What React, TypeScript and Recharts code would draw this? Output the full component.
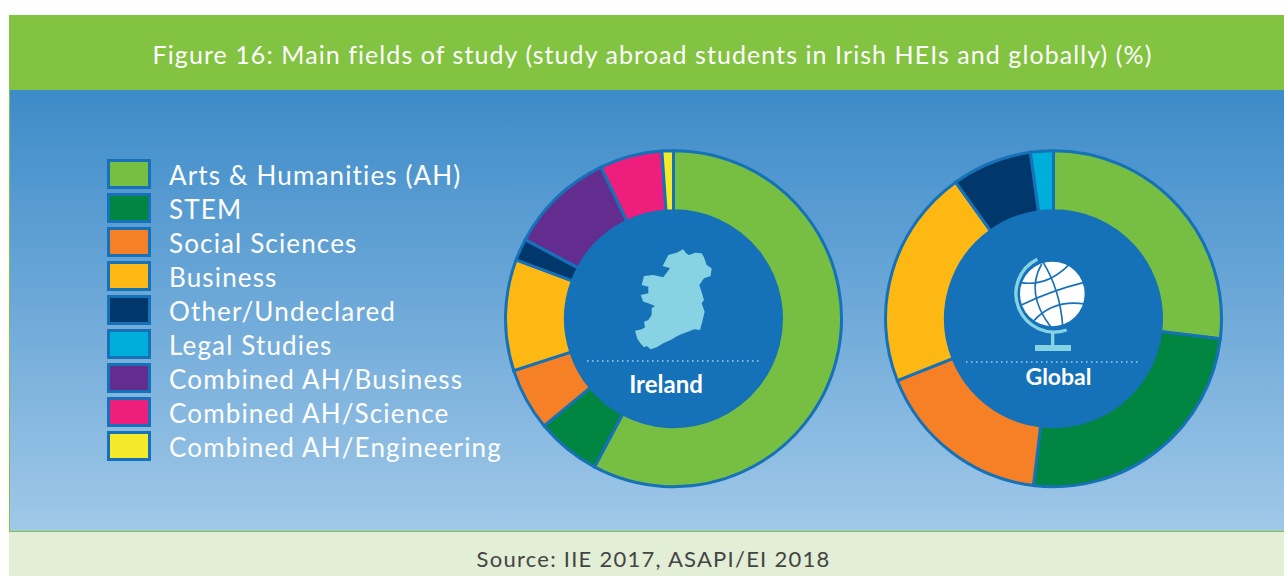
import { Cell, Legend, Pie, PieChart } from 'recharts'

const WIDTH = 1284
const HEIGHT = 576
const FONT = 'Lato, "Open Sans", sans-serif'
const RING_STROKE = '#1571b8'

const CATEGORIES = [
  'Arts & Humanities (AH)',
  'STEM',
  'Social Sciences',
  'Business',
  'Other/Undeclared',
  'Legal Studies',
  'Combined AH/Business',
  'Combined AH/Science',
  'Combined AH/Engineering',
]
const COLORS = [
  '#76bf43',
  '#008641',
  '#f58025',
  '#fdb813',
  '#00386c',
  '#00aedb',
  '#632d8f',
  '#ee1e7c',
  '#f5ea2a',
]
const IRELAND_VALUES = [57.8, 6.2, 6.0, 10.7, 2.1, 0, 10.1, 6.0, 1.1]
const GLOBAL_VALUES = [26.9, 25.0, 17.1, 21.1, 7.7, 2.2, 0, 0, 0]

const toSlices = (values: number[]) =>
  CATEGORIES.map((name, i) => ({ name, value: values[i], color: COLORS[i] })).filter((d) => d.value > 0)

function LegendList(): React.JSX.Element {
  return (
    <div>
      {CATEGORIES.map((name, i) => (
        <div key={name} style={{ display: 'flex', alignItems: 'center', height: 34 }}>
          <div
            style={{
              width: 38,
              height: 24,
              background: COLORS[i],
              border: `3px solid ${RING_STROKE}`,
              marginRight: 18,
              flex: 'none',
            }}
          />
          <span style={{ color: '#fff', fontSize: 26, whiteSpace: 'nowrap', letterSpacing: 1.15, position: 'relative', top: 1 }}>
            {name}
          </span>
        </div>
      ))}
    </div>
  )
}

function Ring({ values, cx }: { values: number[]; cx: number }): React.JSX.Element {
  const slices = toSlices(values)
  return (
    <Pie
      data={slices}
      dataKey="value"
      nameKey="name"
      cx={cx}
      cy={318.7}
      innerRadius={108}
      outerRadius={168}
      startAngle={90}
      endAngle={-270}
      stroke={RING_STROKE}
      strokeWidth={3}
      isAnimationActive={false}
    >
      {slices.map((d) => (
        <Cell key={d.name} fill={d.color} />
      ))}
    </Pie>
  )
}

// hub contents: map and globe, in 3x crop coordinates
function Overlay(): React.JSX.Element {
  return (
    <svg width={WIDTH} height={HEIGHT} style={{ position: 'absolute', left: 0, top: 0, pointerEvents: 'none' }}>
      <circle cx={673.5} cy={318.7} r={108} fill={RING_STROKE} />
      <circle cx={1053.5} cy={318.7} r={108} fill={RING_STROKE} />

      <g transform="translate(500 140) scale(0.3333)">
        <path
          fill="#87d3e3"
          d="M550 328 L558 340 L568 345 L585 338 L605 340 L612 352 L620 375 L635 385 L632 408 L612 415 L598 435 L606 460 L612 480 L605 490 L614 515 L607 545 L600 570 L582 568 L570 573 L545 582 L528 590 L512 600 L490 610 L470 622 L452 628 L440 618 L432 622 L420 608 L412 596 L405 572 L425 568 L435 562 L432 545 L445 540 L455 525 L455 505 L465 498 L445 490 L430 485 L422 465 L445 460 L445 440 L425 435 L432 408 L460 405 L490 412 L510 385 L488 378 L505 345 L530 338 Z"
        />
      </g>

      <g transform="translate(880 140) scale(0.3333)">
        <circle cx={517} cy={462} r={97} fill="#fff" />
        <g fill="none" stroke={RING_STROKE} strokeWidth={5}>
          <path d="M422 428 Q500 440 565 376" />
          <path d="M426 494 Q520 450 610 428" />
          <path d="M462 542 Q520 478 614 492" />
          <path d="M485 372 Q435 460 512 560" />
          <path d="M490 368 Q540 450 548 556" />
        </g>
        <path d="M472 358 A115 115 0 0 0 560 570" fill="none" stroke="#87d3e3" strokeWidth={10} />
        <rect x={513} y={576} width={10} height={40} fill="#87d3e3" />
        <rect x={465} y={615} width={108} height={18} fill="#87d3e3" />
      </g>

      <line x1={587} x2={761} y1={361} y2={361} stroke="#fff" strokeWidth={1.2} strokeDasharray="1.5 3.5" />
      <line x1={966} x2={1140} y1={362} y2={362} stroke="#fff" strokeWidth={1.2} strokeDasharray="1.5 3.5" />

      <text x={666} y={393} textAnchor="middle" fill="#fff" fontFamily={FONT} fontWeight={700} fontSize={24}>
        Ireland
      </text>
      <text x={1058.5} y={385} textAnchor="middle" fill="#fff" fontFamily={FONT} fontWeight={700} fontSize={23}>
        Global
      </text>
    </svg>
  )
}

export default function App(): React.JSX.Element {
  return (
    <div style={{ position: 'absolute', left: 0, top: 0, width: WIDTH, height: HEIGHT, overflow: 'hidden', background: '#fff', fontFamily: FONT }}>
      <div
        style={{
          position: 'absolute',
          left: 9,
          top: 15,
          right: 0,
          height: 75,
          background: '#82c341',
          color: '#fff',
          fontSize: 25,
          letterSpacing: 1.07,
          lineHeight: '78px',
          textAlign: 'center',
          whiteSpace: 'nowrap',
          paddingLeft: 12,
          boxSizing: 'border-box',
        }}
      >
        Figure 16: Main fields of study (study abroad students in Irish HEIs and globally) (%)
      </div>
      <div
        style={{
          position: 'absolute',
          left: 9,
          top: 90,
          right: 0,
          height: 442,
          background: 'linear-gradient(#3d8bc9, #a0c8e8)',
          borderLeft: '1px solid #82c341',
          borderBottom: '1px solid #82c341',
          boxSizing: 'border-box',
        }}
      />
      <div
        style={{
          position: 'absolute',
          left: 9,
          top: 532,
          right: 0,
          height: 44,
          background: '#e2eed5',
          color: '#444',
          fontSize: 22,
          letterSpacing: 1.25,
          lineHeight: '54px',
          textAlign: 'center',
          paddingLeft: 14,
          boxSizing: 'border-box',
        }}
      >
        Source: IIE 2017, ASAPI/EI 2018
      </div>

      <div style={{ position: 'absolute', left: 0, top: 0 }}>
        <PieChart width={WIDTH} height={HEIGHT} margin={{ top: 0, right: 0, bottom: 0, left: 0 }}>
          {Ring({ values: IRELAND_VALUES, cx: 673.5 })}
          {Ring({ values: GLOBAL_VALUES, cx: 1053.5 })}
          <Legend
            content={<LegendList />}
            wrapperStyle={{ left: 107, top: 157, width: 420, bottom: 'auto', right: 'auto' }}
          />
        </PieChart>
      </div>
      <Overlay />
    </div>
  )
}
